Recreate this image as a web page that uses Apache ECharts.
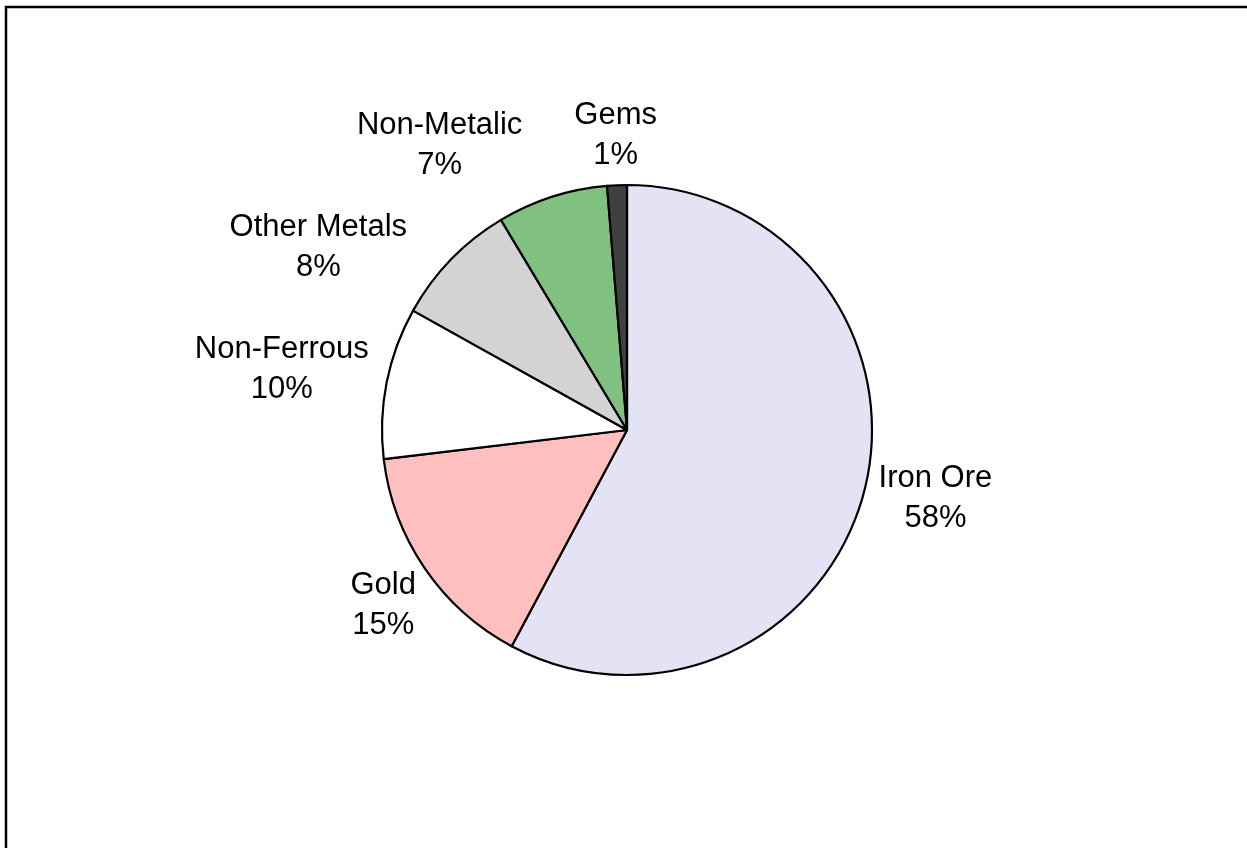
<!DOCTYPE html>
<html>
<head>
<meta charset="utf-8">
<title>Mining output by commodity</title>
<script src="https://cdn.jsdelivr.net/npm/echarts@6/dist/echarts.min.js"></script>
<style>
  html, body { margin: 0; padding: 0; background: #ffffff; }
  #chart { width: 1247px; height: 848px; }
</style>
</head>
<body>
<div id="chart"></div>
<script>
// Share of production value by commodity group (percent)
const categories = ['Iron Ore', 'Gold', 'Non-Ferrous', 'Other Metals', 'Non-Metalic', 'Gems'];
const shares = [57.8, 15.3, 10.0, 8.3, 7.3, 1.3];
const sliceColors = ['#E3E3F5', '#FFBFBF', '#FFFFFF', '#D3D3D3', '#80C080', '#404040'];

// Pie geometry (pixels)
const CX = 627, CY = 430, R = 245, GAP = 8;
// Label block nudges relative to the point just outside each slice's mid-angle
const labelNudge = [[63, 7], [-35, 33], [-97, -12], [-127, -6], [-110, -44], [-1, -42]];

const total = shares.reduce((a, b) => a + b, 0);
const midAngles = [];
let acc = 0;
shares.forEach(v => { midAngles.push((acc + v / 2) / total * 2 * Math.PI); acc += v; });

const chart = echarts.init(document.getElementById('chart'), null, { renderer: 'canvas' });

chart.setOption({
  backgroundColor: '#ffffff',
  animation: false,
  graphic: [{
    type: 'rect',
    shape: { x: 6, y: 7, width: 1400, height: 1000 },
    style: { fill: 'none', stroke: '#000000', lineWidth: 2.5 },
    silent: true
  }],
  series: [{
    type: 'pie',
    center: [CX, CY],
    radius: [0, R],
    startAngle: 90,
    clockwise: true,
    avoidLabelOverlap: false,
    itemStyle: { borderColor: '#000000', borderWidth: 2.2 },
    label: {
      show: true,
      position: 'outside',
      formatter: p => p.name + '\n' + Math.round(p.value) + '%',
      fontFamily: '"Liberation Sans", Arial, sans-serif',
      fontSize: 31,
      lineHeight: 40,
      color: '#000000',
      align: 'center'
    },
    labelLine: { show: false },
    labelLayout: p => {
      const i = p.dataIndex;
      const a = midAngles[i];
      const dx = Math.sin(a), dy = -Math.cos(a);
      return {
        x: CX + dx * (R + GAP) + labelNudge[i][0],
        y: CY + dy * (R + GAP) + labelNudge[i][1],
        align: 'center',
        verticalAlign: 'middle'
      };
    },
    emphasis: { disabled: true },
    data: categories.map((name, i) => ({
      name: name,
      value: shares[i],
      itemStyle: { color: sliceColors[i] }
    }))
  }]
});
</script>
</body>
</html>
